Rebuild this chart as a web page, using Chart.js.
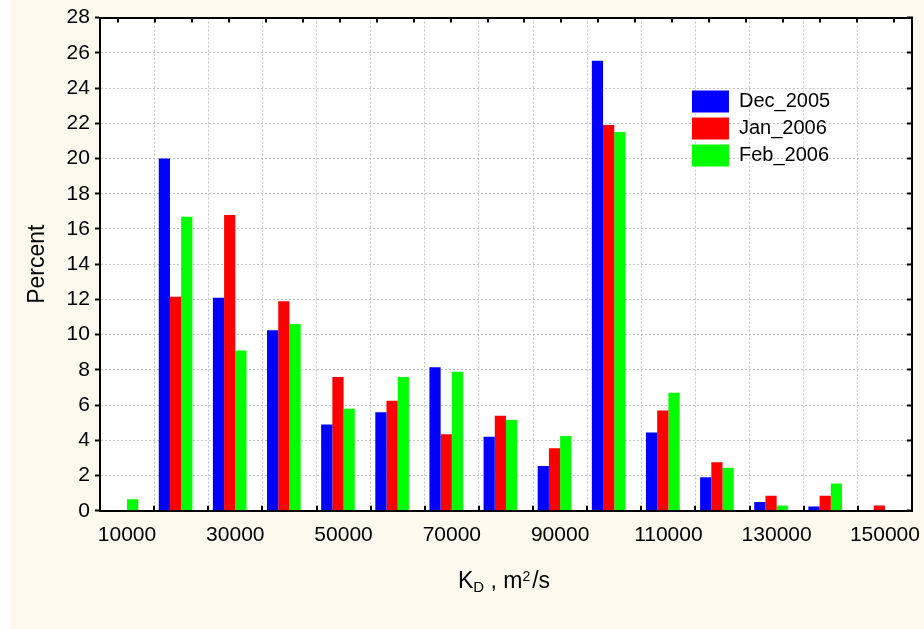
<!DOCTYPE html>
<html>
<head>
<meta charset="utf-8">
<title>K_D distribution</title>
<script src="https://cdn.jsdelivr.net/npm/chart.js@4.4.1/dist/chart.umd.min.js"></script>
<style>
  html, body { margin: 0; padding: 0; background: #ffffff; }
  #wrap { position: absolute; left: 10px; top: 0; width: 914px; height: 629px; background: #fdf9ef; }
  canvas { display: block; }
</style>
</head>
<body>
<div id="wrap"><canvas id="kdChart" width="914" height="629"></canvas></div>
<script>
// ─── Data ────────────────────────────────────────────────────────────────────
// K_D classes (m^2/s), one group of bars per class
const kdClasses = ['10000', '20000', '30000', '40000', '50000', '60000', '70000', '80000',
  '90000', '100000', '110000', '120000', '130000', '140000', '150000'];

// Percent of cases per class
const dec2005 = [0, 20.0, 12.1, 10.25, 4.9, 5.6, 8.15, 4.2, 2.55, 25.55, 4.45, 1.9, 0.5, 0.25, 0];
const jan2006 = [0, 12.15, 16.8, 11.9, 7.6, 6.25, 4.35, 5.4, 3.55, 21.9, 5.7, 2.75, 0.85, 0.85, 0.3];
const feb2006 = [0.65, 16.7, 9.1, 10.6, 5.8, 7.6, 7.9, 5.15, 4.25, 21.5, 6.7, 2.45, 0.3, 1.55, 0];

const seriesNames = ['Dec_2005', 'Jan_2006', 'Feb_2006'];
const seriesColors = ['#0000ff', '#ff0000', '#00ff00'];

const yMin = 0;
const yMax = 28;
const yStep = 2;

const FONT = "'Liberation Sans', Arial, sans-serif";
const GRID_COLOR = '#c4c4c4';

Chart.defaults.font.family = FONT;
Chart.defaults.color = '#000';

// ─── Plugins ─────────────────────────────────────────────────────────────────
// white plot area on the cream page
const plotBackground = {
  id: 'plotBackground',
  beforeDraw(chart) {
    const { ctx, chartArea: a } = chart;
    ctx.save();
    ctx.fillStyle = '#ffffff';
    ctx.fillRect(a.left, a.top, a.right - a.left, a.bottom - a.top);
    ctx.restore();
  }
};

// legend sits inside the plot, upper right
const legendPlacement = {
  id: 'legendPlacement',
  afterLayout(chart) {
    if (!chart.legend) return;
    chart.legend.left = chart.chartArea.left + 587;
    chart.legend.top = chart.chartArea.top + 68;
  }
};

// inward tick marks: top frame (own spacing) and bottom frame (class boundaries)
const frameTicks = {
  id: 'frameTicks',
  afterDraw(chart) {
    const { ctx, chartArea: a } = chart;
    const top = chart.scales.x2;
    const x = chart.scales.x;
    ctx.save();
    ctx.strokeStyle = '#000';
    ctx.lineWidth = 2;
    ctx.beginPath();
    top.ticks.forEach(t => {
      const px = Math.round(top.getPixelForValue(t.value));
      ctx.moveTo(px, a.top);
      ctx.lineTo(px, a.top + 5);
    });
    for (let i = 1; i < kdClasses.length; i++) {
      const px = Math.round((x.getPixelForValue(i - 1) + x.getPixelForValue(i)) / 2);
      ctx.moveTo(px, a.bottom);
      ctx.lineTo(px, a.bottom - 5);
    }
    ctx.stroke();
    ctx.restore();
  }
};

// x axis title with subscript / superscript
const xTitle = {
  id: 'xTitle',
  afterDraw(chart) {
    const { ctx, chartArea: a } = chart;
    const parts = [
      { t: 'K', size: 23, dy: 0 },
      { t: 'D', size: 15, dy: 4 },
      { t: ' , m', size: 23, dy: 0 },
      { t: '2', size: 14, dy: -7 },
      { t: '/s', size: 23, dy: 0, gap: 2 }
    ];
    ctx.save();
    ctx.fillStyle = '#000';
    ctx.textBaseline = 'alphabetic';
    ctx.textAlign = 'left';
    let total = 0;
    parts.forEach(p => {
      ctx.font = p.size + 'px ' + FONT;
      p.w = ctx.measureText(p.t).width;
      total += p.w + (p.gap || 0);
    });
    let x = (a.left + a.right) / 2 - total / 2 - 2;
    const baseY = a.bottom + 77;
    parts.forEach(p => {
      x += p.gap || 0;
      ctx.font = p.size + 'px ' + FONT;
      ctx.fillText(p.t, x, baseY + p.dy);
      x += p.w;
    });
    ctx.restore();
  }
};

// ─── Chart ───────────────────────────────────────────────────────────────────
const ctx = document.getElementById('kdChart').getContext('2d');

const seriesData = [dec2005, jan2006, feb2006];
const datasets = seriesData.map((d, i) => ({
  label: seriesNames[i],
  data: d,
  backgroundColor: seriesColors[i],
  borderWidth: 0,
  xAxisID: 'x',
  yAxisID: 'y'
}));
// empty slot after the three bars, so each group sits left of its class centre
datasets.push({ label: '', data: [], backgroundColor: 'rgba(0,0,0,0)', xAxisID: 'x', yAxisID: 'y' });

new Chart(ctx, {
  type: 'bar',
  data: { labels: kdClasses, datasets },
  options: {
    responsive: false,
    animation: false,
    layout: { padding: { left: 0, top: 17, right: 12, bottom: 79 } },
    datasets: {
      bar: { categoryPercentage: 0.828, barPercentage: 1.0 }
    },
    plugins: {
      tooltip: { enabled: false },
      legend: {
        position: 'chartArea',
        align: 'start',
        labels: {
          boxWidth: 37,
          boxHeight: 22,
          padding: 5,
          color: '#000',
          font: { size: 20 },
          filter: item => item.text !== ''
        }
      }
    },
    scales: {
      x: {
        type: 'category',
        position: 'bottom',
        offset: true,
        grid: {
          offset: true,
          color: GRID_COLOR,
          lineWidth: 1,
          tickLength: 10,
          tickColor: 'rgba(0,0,0,0)'
        },
        border: { color: '#000', width: 2, dash: [2, 2], z: 1 },
        ticks: {
          autoSkip: false,
          maxRotation: 0,
          padding: 2,
          color: '#000',
          font: { size: 21 },
          callback: function (value, index) {
            return index % 2 === 0 ? this.getLabelForValue(value) : '';
          }
        }
      },
      x2: {
        type: 'linear',
        position: 'top',
        min: 0,
        max: 21,
        grid: { display: false, drawTicks: false },
        border: { color: '#000', width: 2, z: 1 },
        ticks: { display: false, stepSize: 1, autoSkip: false }
      },
      y: {
        position: 'left',
        min: yMin,
        max: yMax,
        grid: {
          color: GRID_COLOR,
          lineWidth: 1,
          tickLength: 5,
          tickColor: '#000',
          tickWidth: 2,
          tickBorderDash: []
        },
        border: { color: '#000', width: 2, dash: [2, 2], z: 1 },
        ticks: { stepSize: yStep, padding: 5, color: '#000', font: { size: 21 } },
        title: {
          display: true,
          text: 'Percent',
          color: '#000',
          font: { size: 23 },
          padding: { top: 14, bottom: 10 }
        }
      },
      y2: {
        position: 'right',
        min: yMin,
        max: yMax,
        grid: {
          drawOnChartArea: false,
          tickLength: -5,
          tickColor: '#000',
          tickWidth: 2,
          tickBorderDash: []
        },
        border: { color: '#000', width: 2, z: 1 },
        ticks: { display: false, stepSize: yStep }
      }
    }
  },
  plugins: [plotBackground, legendPlacement, frameTicks, xTitle]
});
</script>
</body>
</html>
